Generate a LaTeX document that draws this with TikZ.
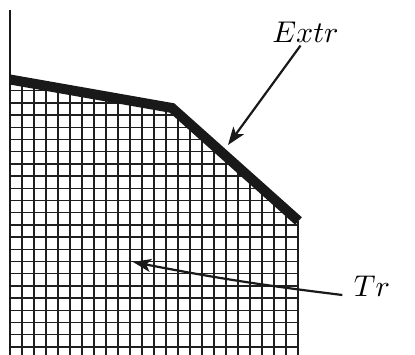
\documentclass[tikz,border=0pt]{standalone}
\usetikzlibrary{arrows.meta,calc}
\begin{document}
\begin{tikzpicture}[x=1pt,y=-1pt,
  gridline/.style={line width=1.4pt,color=black!88},
  frontier/.style={line width=10pt,line join=miter,line cap=butt,color=black!90},
  axisline/.style={line width=2pt,color=black!90},
  callout/.style={line width=2.2pt,color=black!90,-{Stealth[length=18pt,width=13pt,inset=4.5pt]}},
  lbl/.style={inner sep=0pt,anchor=base,scale=3}]
\useasboundingbox (0,0) rectangle (415,355);
% grid region
\begin{scope}
  \clip (10,79.5) -- (172,108) -- (298,221) -- (298,360) -- (10,360) -- cycle;
  \foreach \i in {0,...,24} \draw[gridline] (10+12*\i,60) -- (10+12*\i,360);
  \foreach \j in {0,...,22} \draw[gridline] (5,90.7+12.2*\j) -- (305,90.7+12.2*\j);
\end{scope}
\draw[gridline] (298,221) -- (298,360);
\draw[axisline] (10,10) -- (10,360);
\draw[frontier] (10,79.5) -- (172,108) -- (298.5,221);
% labels
\node[lbl] (extr) at (305.5,43) {$Extr$};
\node[lbl] (tr) at (372,297) {$Tr$};
\coordinate (etip) at (228,145);
\coordinate (ttip) at (133,262);
\draw[callout] ([xshift=-5pt,yshift=-2pt]extr.south) -- (etip);
\draw[callout] ([xshift=-11pt,yshift=2pt]tr.base west) to[bend left=2] (ttip);
\end{tikzpicture}
\end{document}
